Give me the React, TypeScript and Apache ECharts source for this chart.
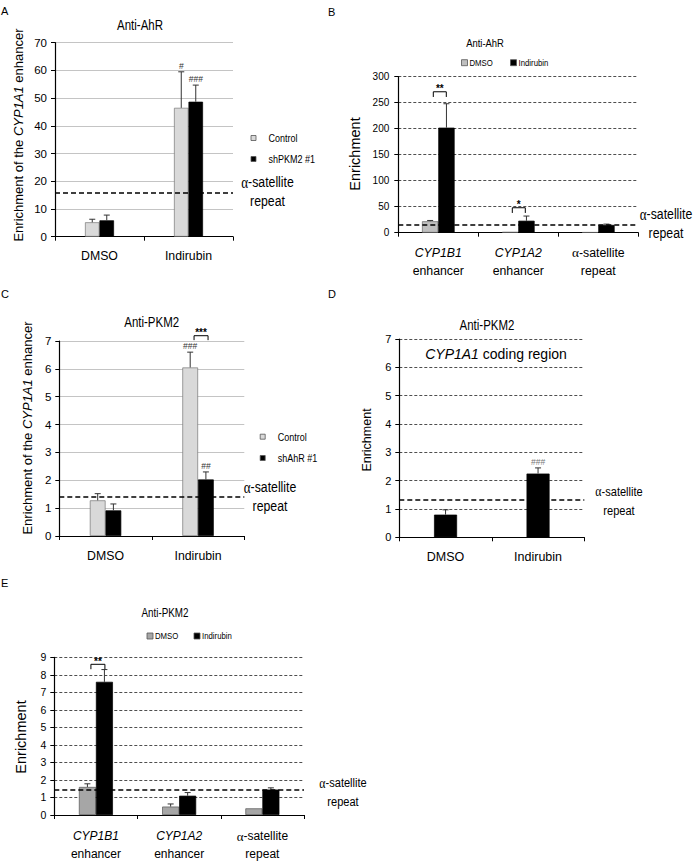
import React, { useEffect, useRef } from "react";
import * as echarts from "echarts";

// ---------- data ----------
const catsAC = ["DMSO", "Indirubin"];
const catsBE = ["CYP1B1 enhancer", "CYP1A2 enhancer", "α-satellite repeat"];

// Panel A (Anti-AhR, CYP1A1 enhancer)
const aControl = [5.2, 46.5];
const aControlErr = [6.3, 59.5];
const aControlMarks = ["", "#"];
const aSh = [5.9, 48.7];
const aShErr = [7.8, 54.7];
const aShMarks = ["", "###"];
const aAlpha = 15.8;

// Panel B (Anti-AhR)
const bDmso = [22, 1.5, 1];
const bDmsoErr = [23.5, null, null];
const bInd = [202, 23, 15];
const bIndErr = [248, 32, 16.5];
const bBrackets = [
  [0, 261, 271],
  [1, 38, 48],
];
const bBracketLabels = ["**", "*"];
const bAlpha = 14.5;

// Panel C (Anti-PKM2, CYP1A1 enhancer)
const cControl = [1.28, 6.05];
const cControlErr = [1.52, 6.6];
const cControlMarks = ["", "###"];
const cSh = [0.92, 2.03];
const cShErr = [1.15, 2.3];
const cShMarks = ["", "##"];
const cBrackets = [[1, 7.03, 7.19]];
const cBracketLabels = ["***"];
const cAlpha = 1.42;

// Panel D (Anti-PKM2, CYP1A1 coding region)
const dVals = [0.8, 2.25];
const dErr = [0.97, 2.45];
const dMarks = ["", "###"];
const dAlpha = 1.32;

// Panel E (Anti-PKM2)
const eDmso = [1.6, 0.48, 0.38];
const eDmsoErr = [1.78, 0.63, null];
const eInd = [7.6, 1.1, 1.45];
const eIndErr = [8.3, 1.28, 1.55];
const eBrackets = [[0, 8.32, 8.6]];
const eBracketLabels = ["**"];
const eAlpha = 1.43;

// ---------- styles ----------
const FR = "'Liberation Sans',Arial,sans-serif";
const FS = "'Liberation Serif','Times New Roman',serif";
const NARROW = 0.82;

function catFormatter(v: string) {
  const k = v.lastIndexOf(" ");
  if (k < 0) return `{n|${v}}`;
  const first = v.slice(0, k);
  const rest = v.slice(k + 1);
  let line1 = `{n|${first}}`;
  if (/^CYP/.test(first)) line1 = `{it|${first}}`;
  if (first.startsWith("α")) line1 = `{g|α}{n|${first.slice(1)}}`;
  return `${line1}\n{n|${rest}}`;
}

function errSeries(gi: number, vals: number[], errs: (number | null)[], marks: string[] | null, dx: number, markColor = "#333") {
  const data: any[] = [];
  const markList: string[] = [];
  vals.forEach((v, i) => {
    if (errs[i] != null) {
      data.push([i, v, errs[i]]);
      markList.push(marks ? marks[i] : "");
    }
  });
  return {
    type: "custom",
    xAxisIndex: gi,
    yAxisIndex: gi,
    z: 4,
    silent: true,
    data,
    renderItem: (params: any, api: any) => {
      const base = api.coord([api.value(0), api.value(1)]);
      const top = api.coord([api.value(0), api.value(2)]);
      const x = base[0] + dx;
      const children: any[] = [
        { type: "line", shape: { x1: x, y1: base[1], x2: x, y2: top[1] }, style: { stroke: "#333", lineWidth: 1 } },
        { type: "line", shape: { x1: x - 3, y1: top[1], x2: x + 3, y2: top[1] }, style: { stroke: "#333", lineWidth: 1 } },
      ];
      const m = markList[params.dataIndex];
      if (m) {
        children.push({
          type: "text",
          x,
          y: top[1] - 1,
          scaleX: 0.9,
          style: { text: m, font: `9.5px ${FR}`, fill: markColor, align: "center", verticalAlign: "bottom" },
        });
      }
      return { type: "group", children };
    },
  };
}

function bracketSeries(gi: number, data: number[][], labels: string[], offs: number[][]) {
  return {
    type: "custom",
    xAxisIndex: gi,
    yAxisIndex: gi,
    z: 5,
    silent: true,
    data,
    renderItem: (params: any, api: any) => {
      const t = api.coord([api.value(0), api.value(2)]);
      const d = api.coord([api.value(0), api.value(1)]);
      const o = offs[params.dataIndex];
      const xl = t[0] + o[0];
      const xr = t[0] + o[1];
      return {
        type: "group",
        children: [
          {
            type: "polyline",
            shape: { points: [[xl, d[1]], [xl, t[1]], [xr, t[1]], [xr, d[1]]] },
            style: { stroke: "#000", fill: "none", lineWidth: 1 },
          },
          {
            type: "text",
            x: (xl + xr) / 2,
            y: t[1] + 2,
            style: { text: labels[params.dataIndex], font: `bold 10px ${FR}`, fill: "#000", align: "center", verticalAlign: "bottom" },
          },
        ],
      };
    },
  };
}

function alphaLine(v: number) {
  return {
    silent: true,
    symbol: "none",
    label: { show: false },
    lineStyle: { color: "#000", type: [5, 3], width: 1.5 },
    data: [{ yAxis: v }],
  };
}

const greySplit = { show: true, lineStyle: { color: "#c4c4c4", width: 1, type: "solid" } };
const dashSplit = { show: true, lineStyle: { color: "#222", width: 0.8, type: [3, 2] } };

function xAxisOf(gi: number, cats: string[], margin: number, fs: number) {
  return {
    type: "category",
    gridIndex: gi,
    data: cats,
    axisLine: { show: true, lineStyle: { color: "#000", width: 1 } },
    axisTick: { show: true, length: 4, lineStyle: { color: "#000" } },
    axisLabel: {
      margin,
      color: "#000",
      interval: 0,
      formatter: catFormatter,
      rich: {
        n: { fontFamily: FR, fontSize: fs, lineHeight: 18, color: "#000" },
        it: { fontFamily: FR, fontSize: fs, lineHeight: 18, fontStyle: "italic", color: "#000" },
        g: { fontFamily: FS, fontSize: fs + 1, lineHeight: 18, color: "#000" },
      },
    },
  };
}

function yAxisOf(gi: number, max: number, interval: number, fs: number, margin: number, split: any) {
  return {
    type: "value",
    gridIndex: gi,
    min: 0,
    max,
    interval,
    axisLine: { show: true, lineStyle: { color: "#000", width: 1.2 } },
    axisTick: { show: true, length: 4, lineStyle: { color: "#000" } },
    axisLabel: { fontFamily: FR, fontSize: fs, color: "#000", margin },
    splitLine: split,
  };
}

function barSeries(gi: number, name: string, data: number[], color: string, border: string, w: number, ml?: any) {
  const s: any = {
    type: "bar",
    name,
    xAxisIndex: gi,
    yAxisIndex: gi,
    data,
    barWidth: w,
    barGap: "0%",
    itemStyle: { color, borderColor: border, borderWidth: 0.7 },
    z: 3,
  };
  if (ml) s.markLine = ml;
  return s;
}

function txt(x: number, y: number, text: string, fontSize: number, opts: any = {}) {
  return {
    type: "text",
    x,
    y,
    rotation: opts.rotation || 0,
    scaleX: opts.scaleX == null ? NARROW : opts.scaleX,
    style: {
      text,
      fontFamily: opts.fontFamily || FR,
      fontSize,
      fontStyle: opts.fontStyle || "normal",
      fill: "#000",
      textAlign: opts.align || "center",
      textVerticalAlign: "middle",
      rich: opts.rich,
    },
  };
}

function alphaNote(x: number, y: number, fs: number) {
  return txt(x, y, "{g|α}{s|-satellite}\n{s|repeat}", fs, {
    rich: {
      g: { fontFamily: FS, fontSize: fs + 1, lineHeight: 19, fill: "#000" },
      s: { fontFamily: FR, fontSize: fs, lineHeight: 19, fill: "#000" },
    },
  });
}

function legendItem(x: number, y: number, label: string, fill: string, fs: number, size = 6, gap = 10) {
  return [
    { type: "rect", shape: { x: x - size / 2, y: y - size / 2, width: size, height: size }, style: { fill, stroke: "#555", lineWidth: 0.8 } },
    {
      type: "text",
      x: x + gap,
      y,
      scaleX: NARROW,
      style: { text: label, fontFamily: FR, fontSize: fs, fill: "#000", textAlign: "left", textVerticalAlign: "middle" },
    },
  ];
}

const yName = (x: number, y: number, fs: number, text: string) =>
  txt(x, y, text, fs, {
    rotation: Math.PI / 2,
    scaleX: 1,
    rich: {
      i: { fontFamily: FR, fontSize: fs, fontStyle: "italic", fill: "#000" },
      r: { fontFamily: FR, fontSize: fs, fill: "#000" },
    },
  });

export default function App() {
  const ref = useRef<HTMLDivElement>(null);
  useEffect(() => {
    if (!ref.current) return;
    const chart = echarts.init(ref.current, null, { renderer: "svg" });

    const option: any = {
      animation: false,
      backgroundColor: "#fff",
      grid: [
        { left: 55, top: 42.7, width: 178, height: 194 },
        { left: 398.3, top: 76.7, width: 240, height: 156 },
        { left: 59.3, top: 341, width: 185, height: 195 },
        { left: 399.3, top: 339, width: 185, height: 198.3 },
        { left: 54.3, top: 657.3, width: 249.7, height: 157.7 },
      ],
      xAxis: [
        xAxisOf(0, catsAC, 10, 12.3),
        xAxisOf(1, catsBE, 11, 12.3),
        xAxisOf(2, catsAC, 11, 12.3),
        xAxisOf(3, catsAC, 11, 12.5),
        xAxisOf(4, catsBE, 12, 12),
      ],
      yAxis: [
        yAxisOf(0, 70, 10, 11.5, 8, greySplit),
        yAxisOf(1, 300, 50, 10, 9, dashSplit),
        yAxisOf(2, 7, 1, 11.5, 8, greySplit),
        yAxisOf(3, 7, 1, 11, 8, dashSplit),
        yAxisOf(4, 9, 1, 10.5, 8, dashSplit),
      ],
      series: [
        // A
        barSeries(0, "Control", aControl, "#d9d9d9", "#777", 14.5, alphaLine(aAlpha)),
        barSeries(0, "shPKM2 #1", aSh, "#000", "#000", 14.5),
        errSeries(0, aControl, aControlErr, aControlMarks, -7.25),
        errSeries(0, aSh, aShErr, aShMarks, 7.25),
        // B
        barSeries(1, "DMSO", bDmso, "#bfbfbf", "#666", 16.3, alphaLine(bAlpha)),
        barSeries(1, "Indirubin", bInd, "#000", "#000", 16.3),
        errSeries(1, bDmso, bDmsoErr, null, -8.15),
        errSeries(1, bInd, bIndErr, null, 8.15),
        bracketSeries(1, bBrackets, bBracketLabels, [[-5, 8], [-6, 7]]),
        // C
        barSeries(2, "Control", cControl, "#d9d9d9", "#777", 15.7, alphaLine(cAlpha)),
        barSeries(2, "shAhR #1", cSh, "#000", "#000", 15.7),
        errSeries(2, cControl, cControlErr, cControlMarks, -7.85),
        errSeries(2, cSh, cShErr, cShMarks, 7.85),
        bracketSeries(2, cBrackets, cBracketLabels, [[-4, 10]]),
        // D
        barSeries(3, "Enrichment", dVals, "#000", "#000", 23, alphaLine(dAlpha)),
        errSeries(3, dVals, dErr, dMarks, 0, "#777"),
        // E
        barSeries(4, "DMSO", eDmso, "#a6a6a6", "#555", 17, alphaLine(eAlpha)),
        barSeries(4, "Indirubin", eInd, "#000", "#000", 17),
        errSeries(4, eDmso, eDmsoErr, null, -8.5),
        errSeries(4, eInd, eIndErr, null, 8.5),
        bracketSeries(4, eBrackets, eBracketLabels, [[-5, 9]]),
      ],
      graphic: [
        // panel letters
        txt(1, 11, "A", 11, { align: "left", scaleX: 1 }),
        txt(328, 12, "B", 11, { align: "left", scaleX: 1 }),
        txt(1, 294, "C", 11, { align: "left", scaleX: 1 }),
        txt(328, 294, "D", 11, { align: "left", scaleX: 1 }),
        txt(1, 583, "E", 11, { align: "left", scaleX: 1 }),
        // titles
        txt(140, 25, "Anti-AhR", 14),
        txt(485, 43, "Anti-AhR", 11.5),
        txt(151.7, 322, "Anti-PKM2", 14),
        txt(487, 325, "Anti-PKM2", 14),
        txt(165, 613, "Anti-PKM2", 12),
        txt(496, 354, "{i|CYP1A1} coding region", 14, {
          scaleX: 1,
          rich: { i: { fontFamily: FR, fontSize: 14, fontStyle: "italic", fill: "#000" } },
        }),
        // y axis names
        yName(18, 135, 13, "{r|Enrichment of the }{i|CYP1A1}{r| enhancer}"),
        yName(355, 154, 14.5, "{r|Enrichment}"),
        yName(27, 428, 13, "{r|Enrichment of the }{i|CYP1A1}{r| enhancer}"),
        yName(366.7, 440, 12.5, "{r|Enrichment}"),
        yName(20.5, 737, 14.5, "{r|Enrichment}"),
        // alpha-satellite notes
        alphaNote(267.5, 192, 15),
        alphaNote(666, 224, 15),
        alphaNote(270, 497, 15),
        alphaNote(619, 501, 13.5),
        alphaNote(343, 792.5, 13.5),
        // legends
        ...legendItem(253.5, 138, "Control", "#d9d9d9", 11, 5, 15),
        ...legendItem(253.5, 159, "shPKM2 #1", "#000", 11, 5, 15),
        ...legendItem(262.7, 436.7, "Control", "#d9d9d9", 11, 5, 15),
        ...legendItem(262.7, 458, "shAhR #1", "#000", 11, 5, 15),
        ...legendItem(464.5, 62.7, "DMSO", "#bfbfbf", 9.5, 6, 5),
        ...legendItem(513.5, 62.7, "Indirubin", "#000", 9.5, 6, 5),
        ...legendItem(150, 636, "DMSO", "#a6a6a6", 9.5, 6, 5),
        ...legendItem(197, 636, "Indirubin", "#000", 9.5, 6, 5),
      ],
    };
    chart.setOption(option);
    return () => chart.dispose();
  }, []);
  return <div ref={ref} style={{ position: "absolute", left: 0, top: 0, width: 699, height: 867 }} />;
}
